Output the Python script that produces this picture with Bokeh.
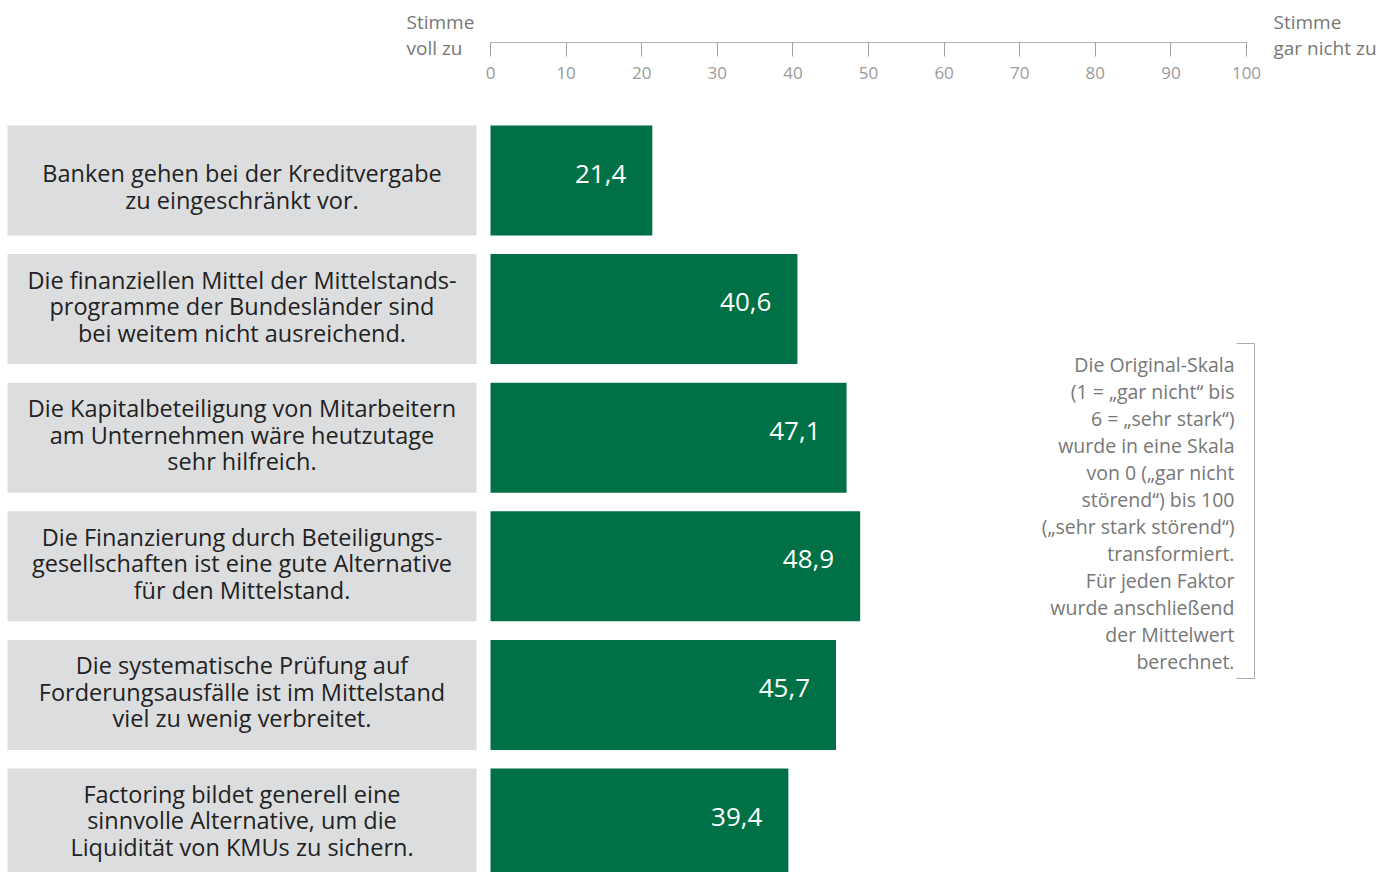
from bokeh.plotting import figure
from bokeh.models import Range1d, FixedTicker, LinearAxis, ColumnDataSource
from bokeh.core.properties import value
from bokeh.embed import file_html
from bokeh.resources import INLINE

# ---------------- data ----------------
categories = [
    "Banken gehen bei der Kreditvergabe\nzu eingeschränkt vor.",
    "Die finanziellen Mittel der Mittelstands-\nprogramme der Bundesländer sind\nbei weitem nicht ausreichend.",
    "Die Kapitalbeteiligung von Mitarbeitern\nam Unternehmen wäre heutzutage\nsehr hilfreich.",
    "Die Finanzierung durch Beteiligungs-\ngesellschaften ist eine gute Alternative\nfür den Mittelstand.",
    "Die systematische Prüfung auf\nForderungsausfälle ist im Mittelstand\nviel zu wenig verbreitet.",
    "Factoring bildet generell eine\nsinnvolle Alternative, um die\nLiquidität von KMUs zu sichern.",
]
values = [21.4, 40.6, 47.1, 48.9, 45.7, 39.4]
value_labels = ["21,4", "40,6", "47,1", "48,9", "45,7", "39,4"]
ticks = [0, 10, 20, 30, 40, 50, 60, 70, 80, 90, 100]
left_title = "Stimme\nvoll zu"
right_title = "Stimme\ngar nicht zu"
note = ("Die Original-Skala\n(1 = „gar nicht“ bis\n6 = „sehr stark“)\nwurde in eine Skala\n"
        "von 0 („gar nicht\nstörend“) bis 100\n(„sehr stark störend“)\ntransformiert.\n"
        "Für jeden Faktor\nwurde anschließend\nder Mittelwert\nberechnet.")

# ---------------- layout constants (canvas pixels) ----------------
FONT = "Open Sans"
W, H = 1394, 872
AXIS_Y = 42                          # y pixel of the axis line
PX0, PX100 = 490.0, 1246.0          # x pixel of 0 and 100
SCALE = (PX100 - PX0) / 100.0
ROW0, PITCH = 180.0, 128.6           # y pixel of first row centre, row pitch


def px2x(px):
    return (px - PX0) / SCALE


def py2y(py):
    return (py - ROW0) / PITCH


p = figure(width=W, height=H, x_range=Range1d(px2x(0), px2x(W)),
           y_range=Range1d(py2y(H), py2y(0)),
           output_backend="svg", toolbar_location=None,
           x_axis_location=None, y_axis_location=None,
           min_border_left=0, min_border_right=0, min_border_top=0, min_border_bottom=0)
p.outline_line_color = None
p.grid.visible = False

# ---------------- value axis (drawn at the top, ticks and labels below the line) ----
ax = LinearAxis(ticker=FixedTicker(ticks=ticks), fixed_location=py2y(AXIS_Y), bounds=(0, 100))
ax.axis_line_color = "#b4b4b4"
ax.major_tick_line_color = "#a0a0a0"
ax.major_tick_in = 14
ax.major_tick_out = 0
ax.minor_tick_line_color = None
ax.major_label_standoff = -36
ax.major_label_text_font = FONT
ax.major_label_text_font_size = "17px"
ax.major_label_text_color = "#9a9a9a"
p.add_layout(ax, "above")

# end titles of the scale
p.text(x=[px2x(406), px2x(1273)], y=[py2y(34.5), py2y(34.5)], text=[left_title, right_title],
       text_align="left", text_baseline="middle", text_color="#777777",
       text_font=value(FONT), text_font_size="19px", text_line_height=0.97)

# ---------------- bars ----------------
rows = list(range(len(values)))
n_lines = [c.count("\n") + 1 for c in categories]
cat_offset = [6 if n == 2 else -3 for n in n_lines]
src = ColumnDataSource(dict(y=rows, v=values, lab=value_labels, cat=categories, off=cat_offset))

BAR_H = 110.0 / PITCH
p.hbar(y="y", left=px2x(7), right=px2x(476), height=BAR_H, source=src,
       fill_color="#dcdddf", line_color=None)
p.hbar(y="y", left=0, right="v", height=BAR_H, source=src,
       fill_color="#007146", line_color=None)
p.text(x="v", y="y", text="lab", source=src, x_offset=-26, y_offset=-7,
       text_align="right", text_baseline="middle", text_color="white",
       text_font=value(FONT), text_font_size="26px")
p.text(x=px2x(241.5), y="y", text="cat", source=src, y_offset="off",
       text_align="center", text_baseline="middle", text_color="#222222",
       text_font=value(FONT), text_font_size="23.5px", text_line_height=0.83)

# note with bracket
p.text(x=[px2x(1234)], y=[py2y(512)], text=[note], text_align="right",
       text_baseline="middle", text_color="#777777", text_font=value(FONT),
       text_font_size="19.5px", text_line_height=1.0)
p.line(x=[px2x(1236), px2x(1254), px2x(1254), px2x(1236)],
       y=[py2y(343), py2y(343), py2y(678), py2y(678)],
       line_color="#aaaaaa", line_width=1)

open("out.html", "w").write(file_html(p, INLINE))
